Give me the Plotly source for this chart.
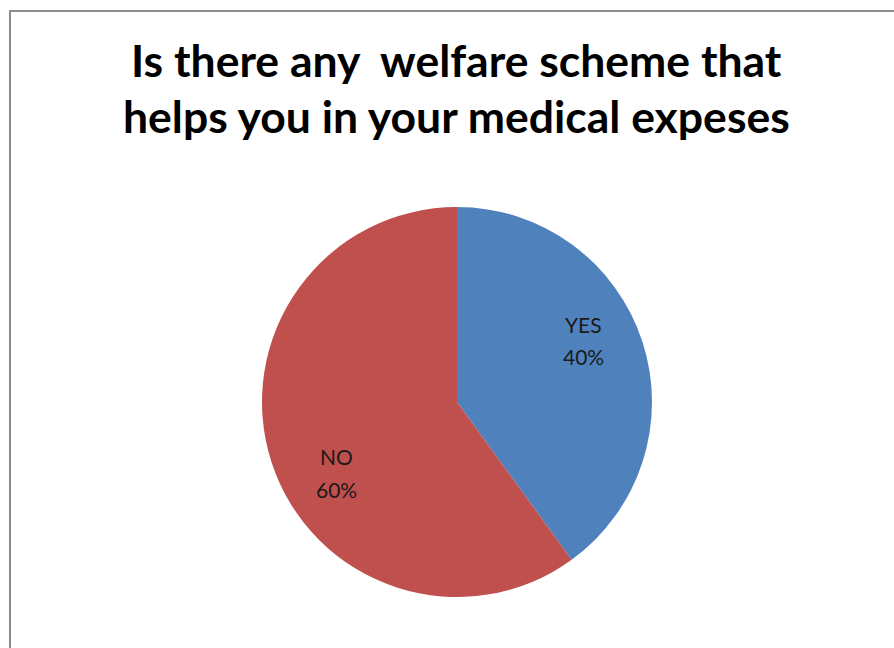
import plotly.graph_objects as go

# Survey answers and their shares
answers = ["YES", "NO"]
shares = [40, 60]
slice_colors = ["#4F81BD", "#C0504D"]

title_lines = ["Is there any\u00a0\u00a0welfare\u00a0scheme that",
               "helps you in your medical expeses"]

W, H = 894, 648
cx, cy, r = 457, 402, 195  # pie centre and radius in pixels

fig = go.Figure(go.Pie(
    labels=answers,
    values=shares,
    sort=False,
    direction="clockwise",
    rotation=0,
    marker=dict(colors=slice_colors, line=dict(width=0)),
    textinfo="none",
    hoverinfo="label+percent",
    showlegend=False,
    domain=dict(x=[(cx - r) / W, (cx + r) / W],
                y=[1 - (cy + r) / H, 1 - (cy - r) / H]),
))

# in-slice labels: category name above its percentage
total = sum(shares)
label_pos = {"YES": (583, 324, 356), "NO": (336, 456, 489)}
label_font = dict(family="Lato, Carlito, sans-serif", size=21, color="#1a1a1a")
annotations = []
for name, v in zip(answers, shares):
    px, py_name, py_pct = label_pos[name]
    for txt, py in ((name, py_name), (f"{round(100 * v / total)}%", py_pct)):
        annotations.append(dict(
            x=px / W, y=1 - py / H, xref="paper", yref="paper",
            text=txt, showarrow=False, xanchor="center", yanchor="middle",
            font=label_font,
        ))

# two-line bold title
title_baselines = [60, 115]
for line, yb in zip(title_lines, title_baselines):
    annotations.append(dict(
        x=457 / W, y=1 - yb / H, xref="paper", yref="paper",
        text=line, showarrow=False, xanchor="center", yanchor="middle",
        font=dict(family="Lato, Carlito, sans-serif", size=44.5, color="#000000",
                  weight="bold"),
    ))

fig.update_layout(
    width=W, height=H,
    margin=dict(l=0, r=0, t=0, b=0),
    paper_bgcolor="white",
    plot_bgcolor="white",
    annotations=annotations,
    shapes=[dict(type="rect", xref="paper", yref="paper",
                 x0=10 / W, x1=1.05, y0=-0.05, y1=1 - 11 / H,
                 line=dict(color="#8c8c8c", width=2), fillcolor="rgba(0,0,0,0)",
                 layer="below")],
)

fig.write_html("out.html")
